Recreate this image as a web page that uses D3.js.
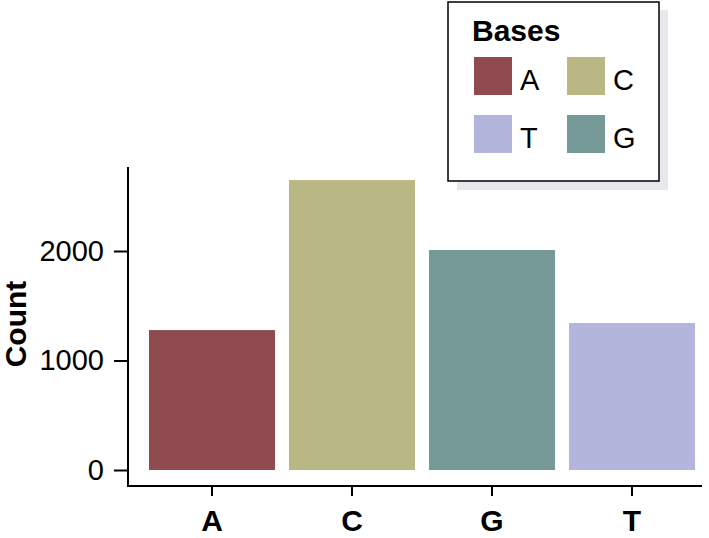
<!DOCTYPE html>
<html><head><meta charset="utf-8">
<script src="https://cdn.jsdelivr.net/npm/d3@7"></script>
<style>body{margin:0;background:#fff}svg{display:block}text{font-family:"Liberation Sans",Arial,sans-serif}</style>
</head><body>
<script>
const categories = ["A","C","G","T"];
const counts = [1278, 2648, 2009, 1342];
const colors = ["#8f4b50","#b9b884","#769a97","#b3b5dc"];
const yTicks = [0, 1000, 2000];
const legendOrder = ["A","C","T","G"];

const W = 709, H = 538;
const svg = d3.select("body").append("svg").attr("width", W).attr("height", H);

const x = d3.scaleBand().domain(categories).range([142, 702]).paddingInner(0.1).paddingOuter(0.05);
const y = d3.scaleLinear().domain([0, 2758]).range([470, 168]);
const color = d3.scaleOrdinal().domain(categories).range(colors);

svg.selectAll("rect.bar").data(categories).enter().append("rect")
  .attr("x", d => x(d)).attr("width", x.bandwidth())
  .attr("y", (d,i) => y(counts[i])).attr("height", (d,i) => y(0) - y(counts[i]))
  .attr("fill", d => color(d));

// y axis
const yAxis = svg.append("g").attr("transform", "translate(128,0)")
  .call(d3.axisLeft(y).tickValues(yTicks).tickSize(14).tickPadding(10).tickFormat(d3.format("d")));
yAxis.select(".domain").attr("d", "M0,167V487").attr("stroke", "#000").attr("stroke-width", 2);
yAxis.selectAll(".tick line").attr("stroke-width", 2);
yAxis.selectAll(".tick text").attr("font-size", 29).attr("fill", "#000");

// x axis
const xAxis = svg.append("g").attr("transform", "translate(0,486)")
  .call(d3.axisBottom(x).tickSize(10).tickPadding(14));
xAxis.select(".domain").attr("d", "M127,0H702").attr("stroke", "#000").attr("stroke-width", 2);
xAxis.selectAll(".tick line").attr("stroke-width", 2);
xAxis.selectAll(".tick text").attr("font-size", 30).attr("font-weight", "bold").attr("fill", "#000");

svg.append("text").attr("transform", "translate(26,324) rotate(-90)")
  .attr("text-anchor", "middle").attr("font-size", 30).attr("font-weight", "bold").text("Count");

// legend
const lg = svg.append("g");
lg.append("rect").attr("x", 457).attr("y", 10).attr("width", 211).attr("height", 180).attr("fill", "#e6e8ec");
lg.append("rect").attr("x", 448).attr("y", 2).attr("width", 211).attr("height", 179)
  .attr("fill", "#fff").attr("stroke", "#000").attr("stroke-width", 1.5);
lg.append("text").attr("x", 472).attr("y", 41).attr("font-size", 30).attr("font-weight", "bold").text("Bases");
legendOrder.forEach((k, i) => {
  const cx = 474 + (i % 2) * 93, cy = 57 + Math.floor(i / 2) * 58;
  lg.append("rect").attr("x", cx).attr("y", cy).attr("width", 38).attr("height", 38).attr("fill", color(k));
  lg.append("text").attr("x", cx + 46).attr("y", cy + 33).attr("font-size", 29).text(k);
});
</script>
</body></html>
